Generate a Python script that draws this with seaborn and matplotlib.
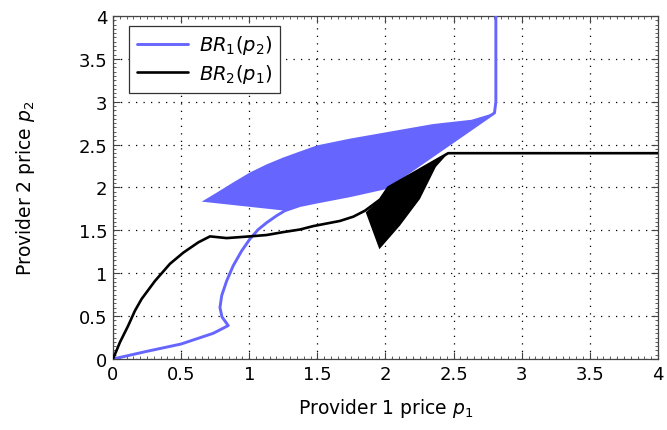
import numpy as np
import pandas as pd
import matplotlib
matplotlib.use("Agg")
import matplotlib.pyplot as plt
from matplotlib.ticker import MultipleLocator, FuncFormatter
import seaborn as sns

# best response of provider 1 (p1 as a function of p2)
br1_p1 = [0, 0.25, 0.50, 0.736, 0.846, 0.80, 0.785, 0.798, 0.834, 0.883, 0.944, 1.005,
          1.066, 1.128, 1.20, 1.262, 1.372, 1.495, 1.74, 2.009, 2.80, 2.81, 2.81]
br1_p2 = [0, 0.09, 0.175, 0.30, 0.39, 0.49, 0.60, 0.74, 0.91, 1.09, 1.26, 1.40,
          1.51, 1.59, 1.67, 1.73, 1.79, 1.83, 1.905, 2.00, 2.87, 3.0, 4.0]

# best response of provider 2 (p2 as a function of p1)
br2_p1 = [0, 0.051, 0.112, 0.161, 0.21, 0.308, 0.418, 0.516, 0.626, 0.712, 0.834, 1.005,
          1.128, 1.25, 1.372, 1.47, 1.666, 1.764, 1.85, 1.96, 2.02, 2.46, 4.0]
br2_p2 = [0, 0.195, 0.39, 0.563, 0.70, 0.91, 1.11, 1.24, 1.36, 1.43, 1.41, 1.43,
          1.446, 1.48, 1.51, 1.55, 1.61, 1.66, 1.73, 1.86, 2.00, 2.40, 2.40]

# multi-valued regions
reg1_p1 = [0.651, 0.761, 0.883, 1.005, 1.128, 1.25, 1.372, 1.495, 1.74, 2.009, 2.35,
           2.632, 2.80, 2.009, 1.74, 1.495, 1.372, 1.262]
reg1_p2 = [1.835, 1.94, 2.06, 2.175, 2.27, 2.35, 2.42, 2.49, 2.57, 2.645, 2.74,
           2.79, 2.87, 2.00, 1.905, 1.83, 1.79, 1.73]
reg2_p1 = [1.855, 1.955, 2.106, 2.253, 2.37, 2.46, 2.02, 1.96]
reg2_p2 = [1.71, 1.28, 1.555, 1.866, 2.24, 2.40, 2.00, 1.86]

blue = "#6666ff"

sns.set_style("ticks")
plt.rcParams["font.family"] = ["DejaVu Sans"]
plt.rcParams["mathtext.fontset"] = "dejavusans"
plt.rcParams["text.color"] = "black"
plt.rcParams["axes.labelcolor"] = "black"
plt.rcParams["xtick.color"] = "black"
plt.rcParams["ytick.color"] = "black"

fig = plt.figure(figsize=(6.67, 4.31), dpi=100)
ax = fig.add_axes([0.1694, 0.1647, 0.8171, 0.7959])

ax.fill(reg1_p1, reg1_p2, color=blue, lw=0, zorder=2)
ax.fill(reg2_p1, reg2_p2, color="black", lw=0, zorder=2)

df1 = pd.DataFrame({"p1": br1_p1, "p2": br1_p2})
df2 = pd.DataFrame({"p1": br2_p1, "p2": br2_p2})
sns.lineplot(data=df1, x="p1", y="p2", sort=False, estimator=None, color=blue,
             lw=2.1, ax=ax, label=r"$BR_1(p_2)$", zorder=3)
sns.lineplot(data=df2, x="p1", y="p2", sort=False, estimator=None, color="black",
             lw=1.9, ax=ax, label=r"$BR_2(p_1)$", zorder=3)

ax.set_xlim(0, 4)
ax.set_ylim(0, 4)
ax.xaxis.set_major_locator(MultipleLocator(0.5))
ax.yaxis.set_major_locator(MultipleLocator(0.5))
ax.xaxis.set_minor_locator(MultipleLocator(0.05))
ax.yaxis.set_minor_locator(MultipleLocator(0.05))
ax.xaxis.set_major_formatter(FuncFormatter(lambda v, p: f"{v:g}"))
ax.yaxis.set_major_formatter(FuncFormatter(lambda v, p: f"{v:g}"))
ax.tick_params(which="both", direction="in", top=True, right=True, labelsize=13,
               color="#444444", labelcolor="black", pad=4)
ax.tick_params(which="major", length=5, width=0.8)
ax.tick_params(which="minor", length=2.5, width=0.6)
ax.grid(True, which="major", ls=(0, (1, 5)), color="black", lw=0.9)
for s in ax.spines.values():
    s.set_color("#444444")
    s.set_linewidth(0.9)

ax.set_xlabel(r"Provider 1 price $p_1$", fontsize=13.5, labelpad=10)
ax.set_ylabel(r"Provider 2 price $p_2$", fontsize=13.5, labelpad=30)

leg = ax.legend(loc="upper left", bbox_to_anchor=(0.03, 0.972), borderaxespad=0,
                fontsize=14, fancybox=False, framealpha=1, edgecolor="#333333",
                handlelength=2.6, handletextpad=0.6, borderpad=0.4, labelspacing=0.3)
leg.get_frame().set_linewidth(0.9)

fig.savefig("out.png", dpi=100)
